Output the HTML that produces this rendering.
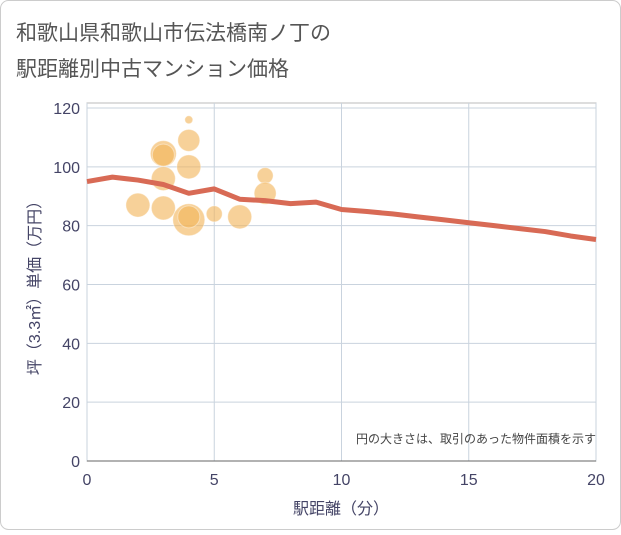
<!DOCTYPE html>
<html><head><meta charset="utf-8"><style>
body{margin:0;background:#fff}
svg text{font-family:"Liberation Sans","Noto Sans CJK JP",sans-serif}
</style></head><body>
<svg width="621" height="530" viewBox="0 0 621 530" xmlns="http://www.w3.org/2000/svg">
<rect x="0.5" y="0.5" width="620" height="529" rx="8" fill="#fff" stroke="#ccc"/>
<text x="16" y="40" font-size="21" fill="#555">和歌山県和歌山市伝法橋南ノ丁の</text>
<text x="16" y="76" font-size="21" fill="#555">駅距離別中古マンション価格</text>
<g id="grid"></g>
<g id="bubbles"></g>
<g id="line"></g>
<g id="axes"></g>
<text x="596" y="443" font-size="12" fill="#444" text-anchor="end">円の大きさは、取引のあった物件面積を示す</text>
<text x="341" y="514" font-size="16" fill="#446" text-anchor="middle">駅距離（分）</text>
<text transform="translate(40,284) rotate(-90)" font-size="16" fill="#446" text-anchor="middle">坪（3.3㎡）単価（万円）</text>
</svg>
<script>
const xTicks=[0,5,10,15,20];
const yTicks=[0,20,40,60,80,100,120];
const bubbleX=[2,3,3,3,3,4,4,4,4,4,5,6,7,7];
const bubbleY=[87,104.5,104,96,86,116,109,100,82,83,84,83,97,91];
const bubbleR=[12,13,11,12,12,4,11,12,16,11,8,12,8,11];
const lineX=[0,1,2,3,4,5,6,7,8,9,10,11,12,13,14,15,16,17,18,19,20];
const lineY=[95,96.5,95.5,94,91,92.5,89,88.5,87.5,88,85.5,84.8,84,83,82,81,80,79,78,76.5,75.3];
const NS="http://www.w3.org/2000/svg";
const X0=87,X1=596,Y0=461,Y1=108;
const sx=v=>X0+(v-0)/(20-0)*(X1-X0);
const sy=v=>Y0-(v-0)/(120-0)*(Y0-Y1);
function mk(t,a,p){const e=document.createElementNS(NS,t);for(const k in a)e.setAttribute(k,a[k]);p.appendChild(e);return e;}
const grid=document.getElementById('grid'),axes=document.getElementById('axes');
mk('rect',{x:X0,y:103,width:X1-X0,height:Y0-103,fill:'none',stroke:'#bbb'},grid);
yTicks.forEach(v=>{
 const l=mk('line',{x1:X0,x2:X1,y1:sy(v),y2:sy(v),stroke:'#c9d3de'},grid);
 
 
 const t=mk('text',{x:X0-7,y:sy(v)+6,'font-size':16,fill:'#446','text-anchor':'end'},axes);
 t.textContent=v;
 
 
});
xTicks.forEach(v=>{
 const l=mk('line',{x1:sx(v),x2:sx(v),y1:103,y2:Y0,stroke:'#c9d3de'},grid);
 
 
 const t=mk('text',{x:sx(v),y:485,'font-size':16,fill:'#446','text-anchor':'middle'},axes);
 t.textContent=v;
 
 
});
const xl=mk('line',{x1:X0,x2:X1,y1:Y0,y2:Y0,stroke:'#666'},axes);


const bg=document.getElementById('bubbles');
bubbleX.forEach((v,i)=>{
 const c=mk('circle',{cx:sx(v),cy:sy(bubbleY[i]),r:bubbleR[i],fill:'#f2b55a','fill-opacity':0.62,stroke:'#fff','stroke-opacity':0.4},bg);
 
 
});
const p=mk('polyline',{points:lineX.map((v,i)=>sx(v)+','+sy(lineY[i])).join(' '),fill:'none',stroke:'#d86a55',"stroke-width":5,"stroke-linejoin":"round"},document.getElementById('line'));


</script>
</body></html>
